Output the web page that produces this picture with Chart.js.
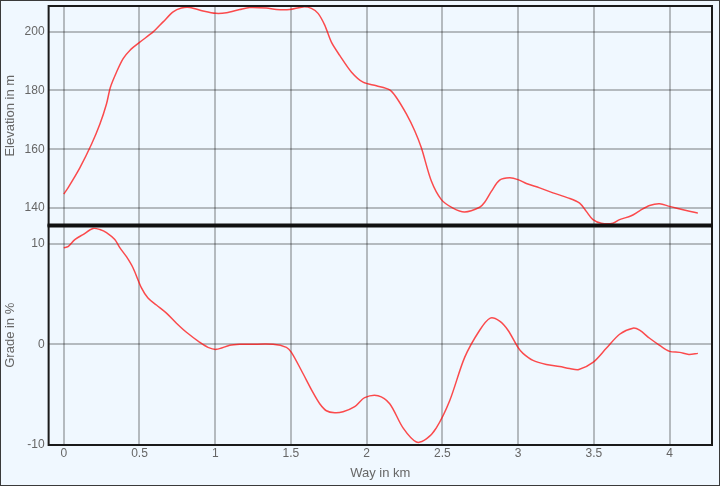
<!DOCTYPE html>
<html>
<head>
<meta charset="utf-8">
<script src="https://cdn.jsdelivr.net/npm/chart.js@4.4.1/dist/chart.umd.min.js"></script>
<style>
    html, body { margin: 0; padding: 0; background: #f0f8ff; }
    #wrap {
        width: 720px; height: 486px; box-sizing: border-box;
        border: 1px solid #3a3a3a; background: #f0f8ff;
    }
    canvas { display: block; }
</style>
</head>
<body>
<div id="wrap"><canvas id="profileChart" width="718" height="484"></canvas></div>
<script>
// Elevation profile (km, m)
const elevKm = [0, 0.028, 0.106, 0.183, 0.238, 0.282, 0.308, 0.348, 0.392, 0.436, 0.502, 0.59, 0.656, 0.722, 0.777, 0.832,
    0.92, 1.003, 1.074, 1.162, 1.228, 1.338, 1.404, 1.492, 1.58, 1.635, 1.679, 1.723, 1.767, 1.822, 1.9, 1.976,
    2.064, 2.152, 2.196, 2.262, 2.317, 2.361, 2.427, 2.493, 2.57, 2.647, 2.746, 2.779, 2.823, 2.878, 2.944, 2.999,
    3.054, 3.142, 3.23, 3.329, 3.406, 3.45, 3.494, 3.549, 3.626, 3.67, 3.747, 3.802, 3.868, 3.934, 4.0, 4.11, 4.187];
const elevM = [144.8, 146.9, 153.7, 161.7, 168.5, 175.4, 181.1, 186.2, 190.8, 193.6, 196.4, 199.9, 203.3, 206.7, 208.0, 208.2,
    207.0, 206.2, 206.4, 207.5, 208.2, 208.0, 207.5, 207.5, 208.4, 207.9, 206.2, 202.2, 196.4, 191.9, 186.2, 182.8,
    181.6, 180.2, 177.6, 172.0, 166.3, 160.5, 149.2, 142.9, 140.0, 138.7, 140.3, 142.0, 145.7, 149.5, 150.3, 149.7,
    148.4, 146.9, 145.2, 143.5, 141.7, 138.9, 136.1, 134.9, 134.9, 136.1, 137.4, 139.1, 140.9, 141.5, 140.6, 139.2, 138.3];

// Grade profile (km, %)
const gradeKm = [0, 0.028, 0.073, 0.127, 0.193, 0.238, 0.282, 0.337, 0.37, 0.414, 0.457, 0.513, 0.556, 0.612, 0.678, 0.744,
    0.81, 0.898, 0.952, 1.008, 1.096, 1.162, 1.228, 1.382, 1.47, 1.503, 1.569, 1.646, 1.69, 1.734, 1.789, 1.844,
    1.921, 1.987, 2.075, 2.152, 2.24, 2.328, 2.394, 2.46, 2.548, 2.647, 2.746, 2.816, 2.878, 2.933, 2.999, 3.032,
    3.098, 3.186, 3.274, 3.34, 3.401, 3.494, 3.582, 3.67, 3.758, 3.802, 3.868, 3.934, 4.0, 4.066, 4.127, 4.187];
const gradePct = [9.6, 9.7, 10.4, 10.9, 11.5, 11.4, 11.1, 10.4, 9.6, 8.7, 7.6, 5.6, 4.6, 3.9, 3.1, 2.1,
    1.2, 0.2, -0.3, -0.5, -0.1, 0.0, 0.0, 0.0, -0.3, -0.8, -2.6, -4.8, -5.9, -6.6, -6.8, -6.7,
    -6.2, -5.3, -5.1, -5.9, -8.3, -9.7, -9.4, -8.3, -5.6, -1.3, 1.4, 2.6, 2.3, 1.4, -0.3, -0.9,
    -1.6, -2.0, -2.2, -2.4, -2.5, -1.8, -0.4, 1.0, 1.6, 1.4, 0.6, -0.1, -0.7, -0.8, -1.0, -0.9];

const elevTicksStep = 20;
const gradeTicksStep = 10;
const wayTicksStep = 0.5;

const gridColor = 'rgba(0, 0, 0, 0.25)';
const textColor = '#666';

Chart.defaults.font.family = 'Arial, "Liberation Sans", sans-serif';
Chart.defaults.color = textColor;

// draws a frame round each stacked panel, with a heavy line between them
const panelFrame = {
    id: 'panelFrame',
    afterDraw(chart) {
        const ctx = chart.ctx;
        const area = chart.chartArea;
        const w = area.right - area.left;
        const top = chart.scales.yElev;
        const bottom = chart.scales.yGrade;
        ctx.save();
        ctx.strokeStyle = '#1a1a1a';
        ctx.lineWidth = 2;
        ctx.strokeRect(area.left, top.top, w, top.bottom - top.top);
        ctx.strokeRect(area.left, bottom.top, w, bottom.bottom - bottom.top);
        ctx.fillStyle = '#111';
        ctx.fillRect(area.left - 1, top.bottom - 2, w + 2, 4);
        ctx.restore();
    }
};

function yAxis(title, min, max, step) {
    return {
        type: 'linear',
        position: 'left',
        stack: 'profile',
        stackWeight: 1,
        min: min,
        max: max,
        border: { display: false },
        grid: { color: gridColor, lineWidth: 2, drawTicks: false },
        ticks: { stepSize: step, includeBounds: false, padding: 4, font: { size: 12 }, color: textColor },
        title: { display: true, text: title, font: { size: 13 }, color: textColor, padding: { top: 2, bottom: 2 } },
        afterFit: s => { s.paddingTop = 0; s.paddingBottom = 0; }
    };
}

const ctx = document.getElementById('profileChart').getContext('2d');
new Chart(ctx, {
    type: 'line',
    data: {
        datasets: [{
            label: 'Elevation',
            data: elevKm.map((k, i) => ({ x: k, y: elevM[i] })),
            yAxisID: 'yElev',
            borderColor: 'rgba(255, 0, 0, 0.7)',
            borderWidth: 1.5,
            pointRadius: 0,
            tension: 0.3,
            fill: false
        }, {
            label: 'Grade',
            data: gradeKm.map((k, i) => ({ x: k, y: gradePct[i] })),
            yAxisID: 'yGrade',
            borderColor: 'rgba(255, 0, 0, 0.7)',
            borderWidth: 1.5,
            pointRadius: 0,
            tension: 0.3,
            fill: false
        }]
    },
    options: {
        responsive: false,
        animation: false,
        layout: { padding: { left: 0, right: 7, top: 5, bottom: 0 } },
        plugins: {
            legend: { display: false },
            tooltip: { enabled: false }
        },
        scales: {
            x: {
                type: 'linear',
                min: -0.1,
                max: 4.28,
                border: { display: false },
                grid: { color: gridColor, lineWidth: 2, drawTicks: false },
                ticks: {
                    stepSize: wayTicksStep,
                    includeBounds: false,
                    padding: 1,
                    font: { size: 12 },
                    color: textColor,
                    callback: v => String(+v.toFixed(2))
                },
                title: { display: true, text: 'Way in km', font: { size: 13 }, color: textColor, padding: { top: 4, bottom: 4 } }
            },
            // later stacked axis is placed on top
            yGrade: yAxis('Grade in %', -10, 11.8, gradeTicksStep),
            yElev: yAxis('Elevation in m', 134.1, 208.7, elevTicksStep)
        }
    },
    plugins: [panelFrame]
});
</script>
</body>
</html>
